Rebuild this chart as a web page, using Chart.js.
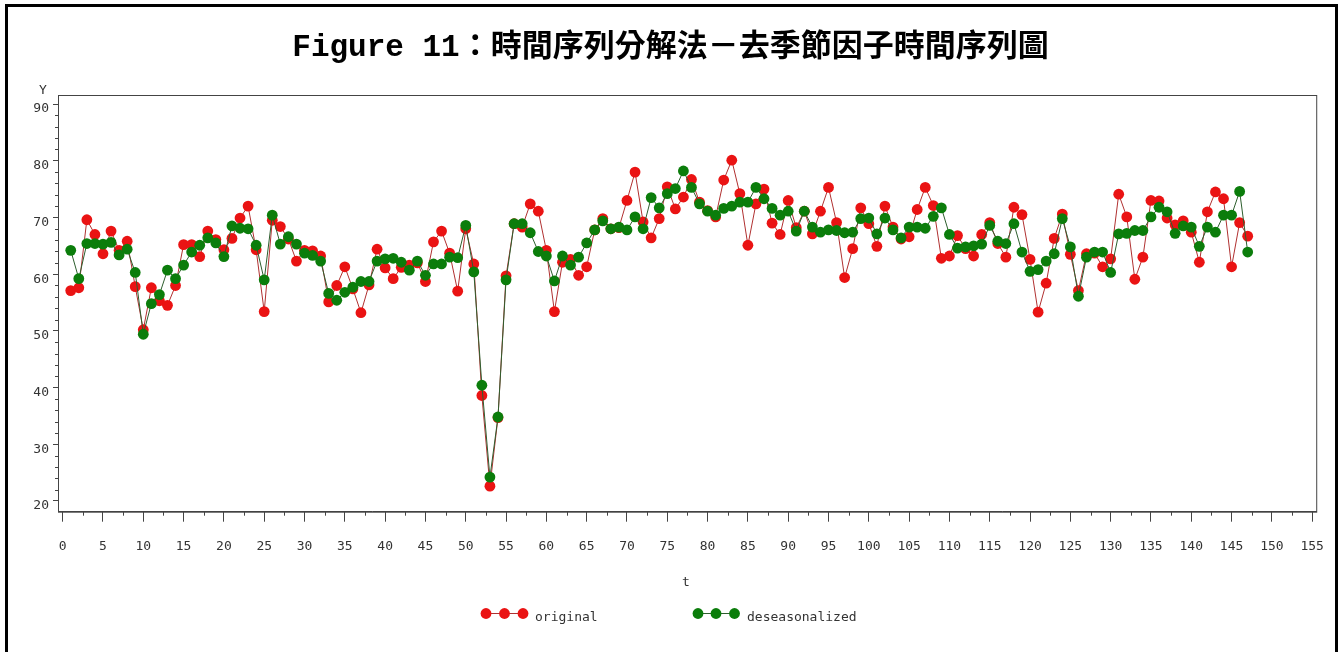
<!DOCTYPE html>
<html>
<head>
<meta charset="utf-8">
<script src="https://cdn.jsdelivr.net/npm/chart.js@4.4.1/dist/chart.umd.min.js"></script>
<style>
  html, body { margin: 0; padding: 0; background: #fff; overflow: hidden; }
  #wrap { position: relative; width: 1341px; height: 652px; }
  #frame { position: absolute; left: 5px; top: 4px; width: 1333px; height: 700px; border: 3px solid #000; box-sizing: border-box; pointer-events: none; }
  #title { position: absolute; left: 0; top: 20px; width: 1341px; text-align: center; font: bold 31px "Liberation Mono", "Noto Sans CJK TC", monospace; color: #000; white-space: nowrap; }
  #chart { position: absolute; left: 0; top: 0; }
</style>
</head>
<body>
<div id="wrap">
  <canvas id="chart" width="1341" height="652"></canvas>
  <div id="frame"></div>
  <div id="title">Figure 11：時間序列分解法－去季節因子時間序列圖</div>
</div>
<script>
// time index 1..147
const t = Array.from({ length: 147 }, (_, i) => i + 1);

const original = [
  57.1, 57.6, 69.6, 67.0, 63.6, 67.6, 64.2, 65.8, 57.8, 50.2,
  57.6, 55.3, 54.5, 58.0, 65.2, 65.2, 63.1, 67.6, 66.1, 64.3,
  66.3, 69.9, 72.0, 64.3, 53.4, 69.5, 68.4, 66.2, 62.3, 64.2,
  64.1, 63.2, 55.1, 58.0, 61.3, 57.4, 53.2, 58.1, 64.4, 61.1,
  59.2, 61.2, 61.6, 62.0, 58.7, 65.7, 67.6, 63.7, 57.0, 68.0,
  61.8, 38.6, 22.6, 34.7, 59.7, 68.9, 68.3, 72.4, 71.1, 64.2,
  53.4, 62.1, 62.6, 59.8, 61.3, 67.8, 69.8, 68.0, 68.2, 73.0,
  78.0, 69.2, 66.4, 69.8, 75.4, 71.5, 73.6, 76.7, 72.7, 71.2,
  70.1, 76.6, 80.1, 74.2, 65.1, 72.4, 75.0, 69.0, 67.0, 73.0,
  68.2, 71.1, 67.1, 71.1, 75.3, 69.1, 59.4, 64.5, 71.7, 68.9,
  64.9, 72.0, 68.3, 66.2, 66.6, 71.4, 75.3, 72.1, 62.8, 63.2,
  66.8, 64.5, 63.2, 67.0, 69.1, 65.4, 63.0, 71.8, 70.5, 62.6,
  53.3, 58.4, 66.3, 70.6, 63.5, 57.1, 63.6, 63.7, 61.3, 62.7,
  74.1, 70.1, 59.1, 63.0, 73.0, 72.9, 69.9, 68.7, 69.4, 67.4,
  62.1, 71.0, 74.5, 73.3, 61.3, 69.1, 66.7
];

const deseasonalized = [
  64.2, 59.2, 65.4, 65.4, 65.3, 65.6, 63.4, 64.4, 60.3, 49.4,
  54.8, 56.4, 60.7, 59.2, 61.6, 63.9, 65.1, 66.4, 65.5, 63.1,
  68.5, 68.1, 68.0, 65.1, 59.0, 70.4, 65.3, 66.6, 65.3, 63.7,
  63.3, 62.3, 56.6, 55.4, 56.8, 57.7, 58.7, 58.7, 62.3, 62.7,
  62.8, 62.1, 60.7, 62.3, 59.8, 61.8, 61.8, 63.0, 62.9, 68.6,
  60.4, 40.4, 24.2, 34.8, 59.0, 68.9, 68.9, 67.3, 64.0, 63.2,
  58.8, 63.2, 61.6, 63.0, 65.5, 67.8, 69.4, 68.0, 68.3, 67.8,
  70.1, 68.0, 73.5, 71.7, 74.2, 75.1, 78.2, 75.3, 72.4, 71.1,
  70.4, 71.6, 72.0, 72.7, 72.7, 75.3, 73.3, 71.6, 70.4, 71.1,
  67.6, 71.1, 68.3, 67.4, 67.8, 67.7, 67.3, 67.4, 69.8, 69.9,
  67.1, 69.9, 67.8, 66.4, 68.3, 68.3, 68.1, 70.2, 71.7, 67.0,
  64.6, 64.8, 65.0, 65.3, 68.6, 65.8, 65.4, 68.9, 63.9, 60.5,
  60.8, 62.3, 63.6, 69.8, 64.8, 56.1, 63.0, 63.9, 63.9, 60.3,
  67.1, 67.2, 67.7, 67.7, 70.1, 71.8, 71.0, 67.2, 68.5, 68.3,
  64.9, 68.3, 67.4, 70.4, 70.4, 74.6, 63.9
];

const seriesNames = ['original', 'deseasonalized'];
const yTicks = [20, 30, 40, 50, 60, 70, 80, 90];

const RED = '#ea1313';
const GREEN = '#0b7d0b';
const monoFont = '"DejaVu Sans Mono", "Liberation Mono", monospace';

const decorations = {
  id: 'decorations',
  afterDraw(chart) {
    const { ctx, chartArea: a, scales: { x, y } } = chart;
    ctx.save();
    // box around the plot
    ctx.strokeStyle = '#444';
    ctx.lineWidth = 1;
    ctx.strokeRect(a.left + 0.5, a.top + 0.5, a.right - a.left, a.bottom - a.top);

    // minor ticks
    ctx.beginPath();
    for (let v = 2.5; v < 155; v += 5) {
      const px = Math.round(x.getPixelForValue(v)) + 0.5;
      ctx.moveTo(px, a.bottom);
      ctx.lineTo(px, a.bottom + 4);
    }
    for (let v = 22; v < 90; v += 2) {
      if (v % 10 === 0) continue;
      const py = Math.round(y.getPixelForValue(v)) + 0.5;
      ctx.moveTo(a.left - 3, py);
      ctx.lineTo(a.left, py);
    }
    ctx.stroke();

    // axis titles
    ctx.fillStyle = '#333';
    ctx.font = '13px ' + monoFont;
    ctx.textAlign = 'center';
    ctx.textBaseline = 'middle';
    ctx.fillText('Y', 43, 91);
    ctx.fillText('t', 686, 583);

    // legend
    const items = [
      { label: seriesNames[0], color: RED, line: '#b03030', dots: [486, 504.5, 523], tx: 535 },
      { label: seriesNames[1], color: GREEN, line: '#2d5e2d', dots: [698, 716, 734.5], tx: 747 }
    ];
    items.forEach((it) => {
      ctx.strokeStyle = it.line;
      ctx.beginPath();
      ctx.moveTo(it.dots[0], 613.5);
      ctx.lineTo(it.dots[2], 613.5);
      ctx.stroke();
      ctx.fillStyle = it.color;
      it.dots.forEach((dx) => {
        ctx.beginPath();
        ctx.arc(dx, 613.5, 5.4, 0, Math.PI * 2);
        ctx.fill();
      });
      ctx.fillStyle = '#333';
      ctx.textAlign = 'left';
      ctx.fillText(it.label, it.tx, 618);
    });
    ctx.restore();
  }
};

new Chart(document.getElementById('chart'), {
  type: 'line',
  data: {
    labels: t,
    datasets: [
      {
        label: seriesNames[0],
        data: original,
        order: 1,
        borderColor: '#b03030',
        borderWidth: 1,
        pointRadius: 5.4,
        pointBackgroundColor: RED,
        pointBorderColor: RED,
        pointBorderWidth: 0,
        tension: 0
      },
      {
        label: seriesNames[1],
        data: deseasonalized,
        order: 0,
        borderColor: '#2d5e2d',
        borderWidth: 1,
        pointRadius: 5.4,
        pointBackgroundColor: GREEN,
        pointBorderColor: GREEN,
        pointBorderWidth: 0,
        tension: 0
      }
    ]
  },
  options: {
    responsive: false,
    animation: false,
    layout: { padding: { top: 95, right: 22.5, left: 0, bottom: 0 } },
    plugins: {
      legend: { display: false },
      title: { display: false },
      tooltip: { enabled: false }
    },
    scales: {
      x: {
        type: 'linear',
        min: -0.58,
        max: 155.5,
        afterFit(scale) { scale.height = 140.3; },
        border: { display: true, color: '#444', width: 1 },
        grid: { drawOnChartArea: false, drawTicks: true, tickLength: 10, color: '#444' },
        ticks: {
          stepSize: 5,
          includeBounds: false,
          autoSkip: false,
          maxRotation: 0,
          padding: 17,
          color: '#333',
          font: { family: monoFont, size: 13 }
        }
      },
      y: {
        type: 'linear',
        min: 18.1,
        max: 91.6,
        afterFit(scale) { scale.width = 58; },
        border: { display: true, color: '#444', width: 1 },
        grid: { drawOnChartArea: false, drawTicks: true, tickLength: 5, color: '#444' },
        afterBuildTicks(scale) { scale.ticks = yTicks.map((v) => ({ value: v })); },
        ticks: {
          padding: 4,
          labelOffset: 5,
          color: '#333',
          font: { family: monoFont, size: 13 }
        }
      }
    }
  },
  plugins: [decorations]
});
</script>
</body>
</html>
